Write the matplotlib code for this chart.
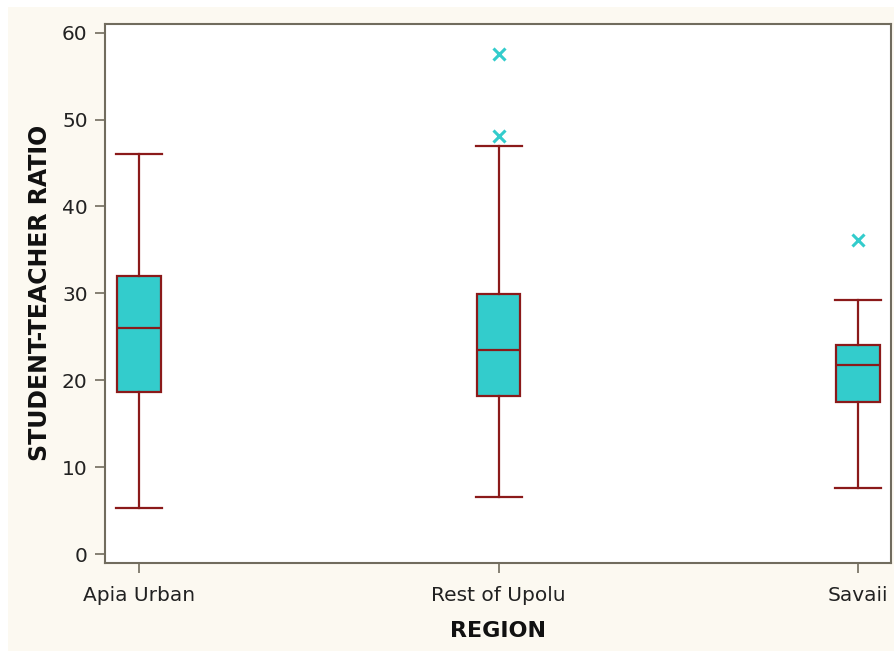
import matplotlib
matplotlib.use("Agg")
import matplotlib.pyplot as plt
from matplotlib.patches import Rectangle

# Student-teacher ratio summary statistics per region
regions = ["Apia Urban", "Rest of Upolu", "Savaii"]
whisker_low = [5.3, 6.6, 7.6]
q1 = [18.7, 18.2, 17.5]
median = [26.0, 23.5, 21.7]
q3 = [32.0, 29.9, 24.1]
whisker_high = [46.0, 47.0, 29.2]
outliers = [[], [57.6, 48.1], [36.1]]

yticks = [0, 10, 20, 30, 40, 50, 60]

BOX_FILL = "#33CCCC"
BOX_EDGE = "#8B1A1A"
AXIS_GRAY = "#716C5E"
BG_CREAM = "#FCF9F1"

fig = plt.figure(figsize=(8.94, 6.51), dpi=100, facecolor="white")
# cream panel behind the plot
fig.patches.append(Rectangle((8 / 894, 0), 1, 1 - 7 / 651, transform=fig.transFigure,
                             facecolor=BG_CREAM, edgecolor="none", zorder=-10))

ax = fig.add_axes([105 / 894, 1 - 562.7 / 651, (891 - 105) / 894, (562.7 - 24) / 651])
ax.set_facecolor("white")

stats = []
for i, name in enumerate(regions):
    stats.append(dict(label=name, whislo=whisker_low[i], q1=q1[i], med=median[i],
                      q3=q3[i], whishi=whisker_high[i], fliers=outliers[i]))

ax.bxp(stats, positions=range(len(regions)), widths=0.122, capwidths=0.128,
       patch_artist=True, showfliers=True,
       boxprops=dict(facecolor=BOX_FILL, edgecolor=BOX_EDGE, linewidth=1.6),
       medianprops=dict(color=BOX_EDGE, linewidth=1.6),
       whiskerprops=dict(color=BOX_EDGE, linewidth=1.6),
       capprops=dict(color=BOX_EDGE, linewidth=1.6),
       flierprops=dict(marker="x", markeredgecolor=BOX_FILL, markersize=9,
                       markeredgewidth=2.2, linestyle="none"))

ax.set_xlim(-0.095, 2.092)
ax.set_ylim(-1, 61)
ax.set_yticks(yticks)
ax.set_xticks(range(len(regions)))
ax.set_xticklabels(regions)

for sp in ax.spines.values():
    sp.set_color(AXIS_GRAY)
    sp.set_linewidth(1.5)

ax.tick_params(axis="both", colors=AXIS_GRAY, length=7.5, width=1.2, labelsize=14.5,
               labelcolor="#222222")
ax.tick_params(axis="x", pad=9)
ax.tick_params(axis="y", pad=5)

ax.set_xlabel("REGION", fontsize=16, fontweight="bold", color="#111111", labelpad=12)
ax.set_ylabel("STUDENT-TEACHER RATIO", fontsize=17, fontweight="bold", color="#111111",
              labelpad=7)

fig.savefig("out.png", dpi=100, facecolor=fig.get_facecolor())
